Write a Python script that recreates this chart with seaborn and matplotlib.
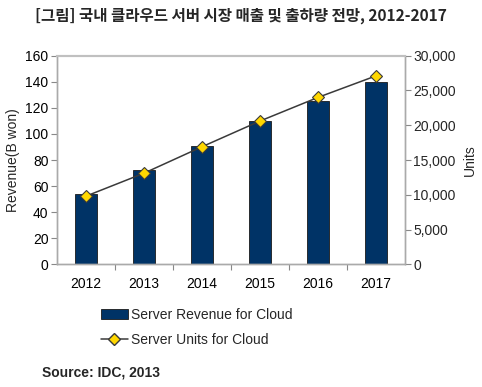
import numpy as np
import pandas as pd
import matplotlib
matplotlib.use("Agg")
import matplotlib.pyplot as plt
import seaborn as sns
from matplotlib.ticker import FuncFormatter, FixedLocator
from matplotlib.patches import Patch
from matplotlib.lines import Line2D

years = ["2012", "2013", "2014", "2015", "2016", "2017"]
revenue = [54, 72, 91, 110, 125, 140]
units = [9800, 13100, 16900, 20600, 24000, 27100]
title = "[그림] 국내 클라우드 서버 시장 매출 및 출하량 전망, 2012-2017"
bar_label = "Server Revenue for Cloud"
line_label = "Server Units for Cloud"
source = "Source: IDC, 2013"

sns.set_style("white")
plt.rcParams['font.family'] = ['Liberation Sans', 'DejaVu Sans']

df = pd.DataFrame({"year": years, "revenue": revenue, "units": units})
df["pos"] = np.arange(len(df))

fig = plt.figure(figsize=(4.82, 3.87), dpi=100)
ax = fig.add_axes([0.118, 0.317, 0.722, 0.539])
sns.barplot(data=df, x="year", y="revenue", ax=ax, color="#003366",
            saturation=1, width=0.39, edgecolor="#1a1a1a", linewidth=0.6)
ax.set_xlim(-0.5, len(years) - 0.5)
ax.set_ylim(0, 160)
ax.set_yticks(range(0, 161, 20))
ax.set_xlabel("")
ax.set_ylabel("Revenue(B won)", fontsize=10, labelpad=4)
ax.tick_params(axis='both', labelsize=10, colors='#000000')
ax.tick_params(axis='y', direction='out', length=4, color='#888888', width=0.8, left=True, pad=2)
ax.tick_params(axis='x', which='major', length=0, pad=9)
ax.xaxis.set_minor_locator(FixedLocator(np.arange(0.5, len(years) - 1, 1)))
ax.tick_params(axis='x', which='minor', direction='out', length=4, color='#888888', width=0.8, bottom=True)

ax2 = ax.twinx()
sns.lineplot(data=df, x="pos", y="units", ax=ax2, color="#3a3a3a", linewidth=1.1,
             marker="D", markersize=6.5, markerfacecolor="#FFD700",
             markeredgecolor="#3a3a3a", markeredgewidth=0.8)
ax2.set_ylim(0, 30000)
ax2.set_yticks(range(0, 30001, 5000))
ax2.yaxis.set_major_formatter(FuncFormatter(lambda v, p: f"{int(v):,}"))
ax2.set_ylabel("Units", fontsize=10, labelpad=5)
ax2.set_xlabel("")
ax2.tick_params(axis='y', direction='out', length=4, color='#888888', width=0.8, right=True, labelsize=10, pad=2)

for a in (ax, ax2):
    for s in a.spines.values():
        s.set_color('#aaaaaa')
        s.set_linewidth(1.0)
ax.spines['top'].set_color('#c0c0c0')
ax.spines['top'].set_linewidth(1.5)
ax2.spines['top'].set_color('#c0c0c0')
ax2.spines['top'].set_linewidth(1.5)

handles = [Patch(facecolor="#003366", edgecolor="#1a1a1a", linewidth=0.6),
           Line2D([0], [0], color="#3a3a3a", lw=1.1, marker="D", markersize=6,
                  markerfacecolor="#FFD700", markeredgecolor="#3a3a3a")]
fig.legend(handles, [bar_label, line_label], loc="upper left",
           bbox_to_anchor=(0.21, 0.205), frameon=False, fontsize=10,
           handlelength=1.9, handleheight=0.7, handletextpad=0.25, labelspacing=0.8,
           borderaxespad=0, borderpad=0)

fig.text(0.5, 0.958, title, ha="center", va="center", fontsize=11.2,
         fontweight="bold", family=["Noto Sans CJK KR", "DejaVu Sans"])
fig.text(0.087, 0.038, source, ha="left", va="center", fontsize=10, fontweight="bold")

fig.savefig("out.png", dpi=100)
